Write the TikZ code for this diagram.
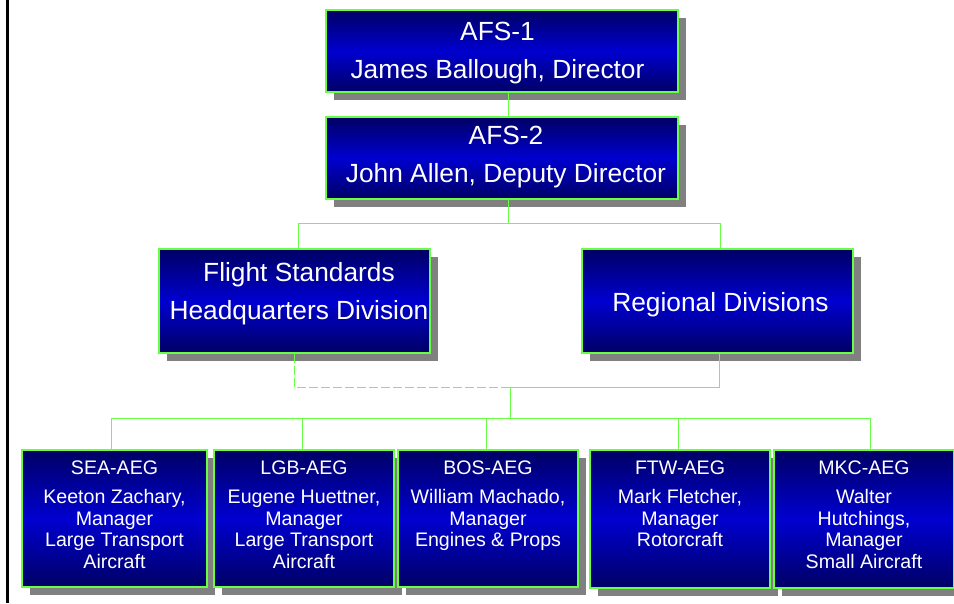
\documentclass[tikz,border=0pt]{standalone}
\usepackage{fontspec}
\setmainfont{Liberation Sans}
\usetikzlibrary{shadows}
\definecolor{navyD}{RGB}{0,0,100}
\definecolor{blueM}{RGB}{0,0,208}
\definecolor{lineG}{RGB}{102,255,68}
\definecolor{shadowG}{RGB}{128,128,128}
\tikzset{
  orgbox/.style={rectangle, inner sep=0pt, draw=lineG, line width=1.2pt,
    top color=navyD, bottom color=navyD, middle color=blueM,
    general shadow={fill=shadowG, shadow xshift=8pt, shadow yshift=-8pt}},
  bigtxt/.style={text=white, inner sep=0pt, align=center, font=\fontsize{26.3}{37.6}\selectfont},
  smalltxt/.style={text=white, inner sep=0pt, align=center, font=\fontsize{19.6}{21.7}\selectfont},
  conn/.style={draw=lineG, line width=1pt},
  dconn/.style={draw=lineG, line width=1pt, dash pattern=on 9pt off 3pt}
}
\begin{document}
\begin{tikzpicture}[x=1pt, y=-1pt]
\useasboundingbox (0,0) rectangle (954,603);
\fill[white] (0,0) rectangle (954,603);
\draw[line width=2.8pt] (7.3,0) -- (7.3,603);

% boxes
\node[orgbox, minimum width=352pt, minimum height=82pt] (afs1) at (502,51) {};
\node[orgbox, minimum width=352pt, minimum height=82pt] (afs2) at (502,158) {};
\node[orgbox, minimum width=271pt, minimum height=104pt] (fsh) at (294.5,301) {};
\node[orgbox, minimum width=271pt, minimum height=104pt] (reg) at (717.5,301) {};
\node[orgbox, minimum width=185pt, minimum height=137pt] (sea) at (114.5,518.5) {};
\node[orgbox, minimum width=180pt, minimum height=137pt] (lgb) at (304,518.5) {};
\node[orgbox, minimum width=180pt, minimum height=137pt] (bos) at (488,518.5) {};
\node[orgbox, minimum width=180pt, minimum height=138pt] (ftw) at (680,519) {};
\node[orgbox, minimum width=180pt, minimum height=138pt] (mkc) at (864,519) {};

% texts
\node[bigtxt, anchor=north] (afs1t) at (497.5,21.9) {AFS-1\\James Ballough, Director};
\node[bigtxt, anchor=north] (afs2t) at (506,126.2) {AFS-2\\John Allen, Deputy Director};
\node[bigtxt, anchor=north] (fsht) at (299,262.2) {Flight Standards\\Headquarters Division};
\node[bigtxt, anchor=base] (regt) at (720.5,311.7) {Regional Divisions};
\node[smalltxt, anchor=north] (seat) at (114.5,461) {SEA-AEG\\[7pt]Keeton Zachary,\\Manager\\Large Transport\\Aircraft};
\node[smalltxt, anchor=north] (lgbt) at (304,461) {LGB-AEG\\[7pt]Eugene Huettner,\\Manager\\Large Transport\\Aircraft};
\node[smalltxt, anchor=north] (bost) at (488,461) {BOS-AEG\\[7pt]William Machado,\\Manager\\Engines \& Props};
\node[smalltxt, anchor=north] (ftwt) at (680,461) {FTW-AEG\\[7pt]Mark Fletcher,\\Manager\\Rotorcraft};
\node[smalltxt, anchor=north] (mkct) at (864,461) {MKC-AEG\\[7pt]Walter\\Hutchings,\\Manager\\Small Aircraft};

% junctions
\coordinate (c1) at (508,223);
\coordinate (c2) at (298,223);
\coordinate (c3) at (720,223);
\coordinate (c4) at (510,387);
\coordinate (c5) at (719,387);
\coordinate (c6) at (510,418);
\coordinate (b1) at (111,418);
\coordinate (b2) at (302,418);
\coordinate (b3) at (486,418);
\coordinate (b4) at (678,418);
\coordinate (b5) at (870,418);

% connectors
\draw[conn] (afs1.south -| c1) -- (afs2.north -| c1);
\draw[conn] (afs2.south -| c1) -- (c1);
\draw[conn] (fsh.north -| c2) -- (c2) -- (c3) -- (reg.north -| c3);
\draw[dconn] (fsh.south) |- (c4);
\draw[conn] (reg.south -| c5) -- (c5) -- (c4);
\draw[conn] (c4) -- (c6);
\draw[conn] (b1) -- (b5);
\draw[conn] (b1) -- (sea.north -| b1);
\draw[conn] (b2) -- (lgb.north -| b2);
\draw[conn] (b3) -- (bos.north -| b3);
\draw[conn] (b4) -- (ftw.north -| b4);
\draw[conn] (b5) -- (mkc.north -| b5);
\end{tikzpicture}
\end{document}
